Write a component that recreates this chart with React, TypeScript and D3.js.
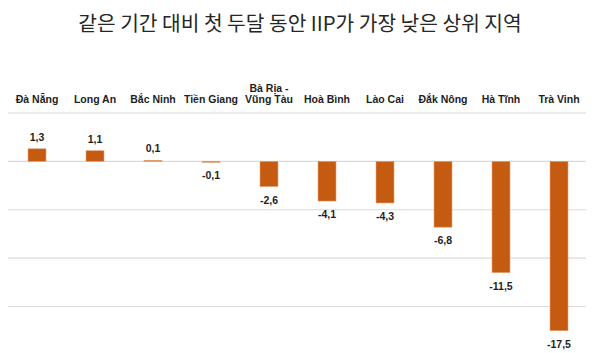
import React from 'react';
import * as d3 from 'd3';

const W = 600;
const H = 353;

const title = '같은 기간 대비 첫 두달 동안 IIP가 가장 낮은 상위 지역';

// provinces (two-line names are split on \n)
const regions = [
  'Đà Nẵng',
  'Long An',
  'Bắc Ninh',
  'Tiền Giang',
  'Bà Rịa -\nVũng Tàu',
  'Hoà Bình',
  'Lào Cai',
  'Đắk Nông',
  'Hà Tĩnh',
  'Trà Vinh',
];
const iipChange = [1.3, 1.1, 0.1, -0.1, -2.6, -4.1, -4.3, -6.8, -11.5, -17.5];
const gridValues = [5, 0, -5, -10, -15];

const BAR = '#c55a11';
const fmt = (v: number) => v.toFixed(1).replace('.', ',');

const App = () => {
  const x = d3
    .scaleBand<number>()
    .domain(d3.range(regions.length))
    .range([8, 588])
    .paddingInner(0.69)
    .paddingOuter(0.345);

  const y = d3.scaleLinear().domain([5, -15]).range([113, 306.5]);

  return (
    <svg
      width={W}
      height={H}
      style={{ position: 'absolute', left: 0, top: 0, background: '#fff' }}
      fontFamily="'Liberation Sans', Arial, sans-serif"
    >
      <text
        x={300}
        y={31}
        textAnchor="middle"
        fontFamily="'Noto Sans CJK KR', sans-serif"
        fontSize={20.3}
        fill="#262626"
      >
        {title}
      </text>

      {/* gridlines */}
      {gridValues.map(g => (
        <line key={g} x1={8} x2={586} y1={y(g)} y2={y(g)} stroke="#dadada" strokeWidth={1.2} />
      ))}

      {/* category labels */}
      {regions.map((r, i) => {
        const lines = r.split('\n');
        const cx = x(i)! + x.bandwidth() / 2;
        return (
          <text key={r} x={cx} textAnchor="middle" fontSize={10.5} fontWeight="bold" fill="#1e1e1e">
            {lines.map((l, j) => (
              <tspan key={j} x={cx} y={103 - (lines.length - 1 - j) * 11}>
                {l}
              </tspan>
            ))}
          </text>
        );
      })}

      {/* bars */}
      {iipChange.map((v, i) => {
        const y0 = y(Math.max(0, v));
        const y1 = y(Math.min(0, v));
        const cx = x(i)! + x.bandwidth() / 2;
        return (
          <g key={i}>
            <rect
              x={x(i)}
              y={y0}
              width={x.bandwidth()}
              height={Math.max(1, y1 - y0)}
              fill={BAR}
              stroke="#e8a070"
              strokeWidth={0.6}
            />
            <text
              x={cx}
              y={v >= 0 ? y0 - 8 : y1 + 17}
              textAnchor="middle"
              fontSize={10.5}
              fontWeight="bold"
              fill="#1e1e1e"
            >
              {fmt(v)}
            </text>
          </g>
        );
      })}
    </svg>
  );
};

export default App;
